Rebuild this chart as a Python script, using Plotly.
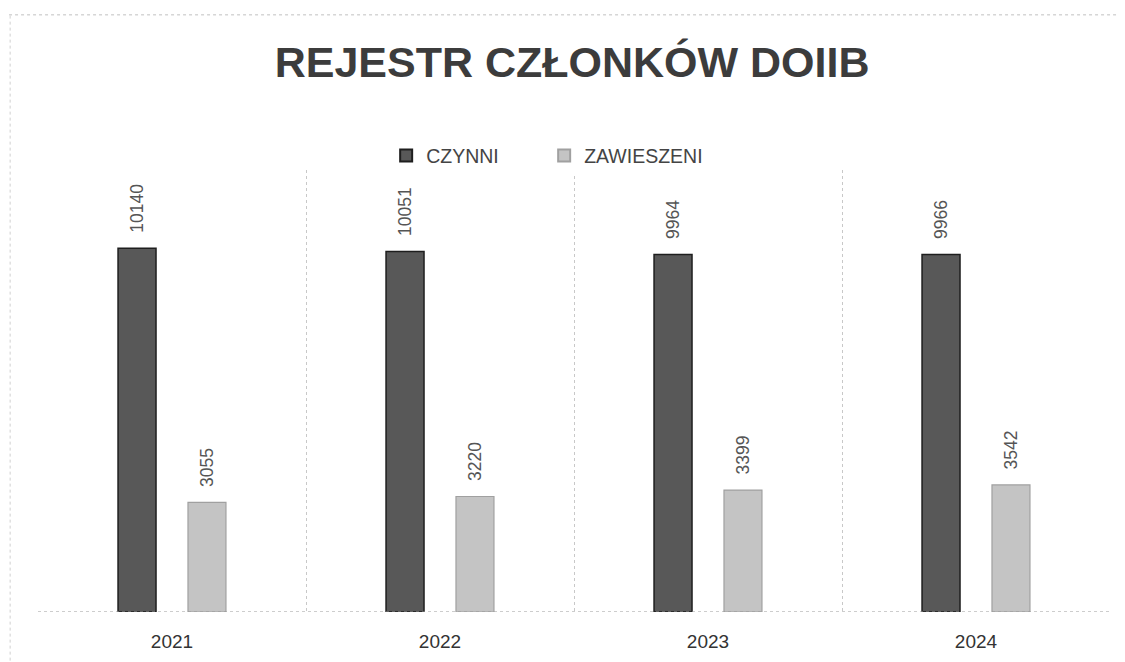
import plotly.graph_objects as go

years = ["2021", "2022", "2023", "2024"]
czynni = [10140, 10051, 9964, 9966]
zawieszeni = [3055, 3220, 3399, 3542]

FONT = "Liberation Sans, Arial, sans-serif"

fig = go.Figure()
fig.add_trace(go.Bar(
    name="CZYNNI", x=years, y=czynni,
    marker=dict(color="#585858", line=dict(color="#1e1e1e", width=1.5)),
))
fig.add_trace(go.Bar(
    name="ZAWIESZENI", x=years, y=zawieszeni,
    marker=dict(color="#c4c4c4", line=dict(color="#a0a0a0", width=1.2)),
))

# value labels (category index used as position on the category axis)
annotations = []
for series, shift in ((czynni, -35), (zawieszeni, 35)):
    for i, v in enumerate(series):
        annotations.append(dict(
            x=i, y=v, xref="x", yref="y", text=str(v), showarrow=False,
            textangle=-90, xshift=shift, yshift=13, yanchor="bottom", xanchor="center",
            font=dict(family=FONT, size=17.5, color="#555555"),
        ))

fig.update_layout(
    width=1117, height=654,
    margin=dict(l=30, r=15, t=162, b=50, autoexpand=False),
    paper_bgcolor="white", plot_bgcolor="white",
    barmode="group", bargap=0.478, bargroupgap=0.457,
    title=dict(text="<b>REJESTR CZŁONKÓW DOIIB</b>", x=0.505, xanchor="center",
               xref="container", yref="container",
               y=0.9174, yanchor="middle",
               font=dict(family=FONT, size=43, color="#3c3c3c")),
    legend=dict(orientation="h", x=0.480, xanchor="center", xref="container",
                yref="container", y=0.774, yanchor="middle",
                font=dict(family=FONT, size=19.5, color="#444444"),
                entrywidth=113, entrywidthmode="pixels",
                itemsizing="constant", traceorder="normal"),
    showlegend=True,
    annotations=annotations,
    xaxis=dict(type="category", categoryorder="array", categoryarray=years,
               range=[-0.5, len(years) - 0.5], autorange=False,
               tickson="boundaries", showgrid=True, gridcolor="#c8c8c8",
               griddash="dot", gridwidth=1, ticks="", showline=False,
               automargin=False,
               tickfont=dict(family=FONT, size=19, color="#333333"),
               ticklabelstandoff=16),
    yaxis=dict(range=[0, 12320], visible=False, showgrid=False, zeroline=False,
               automargin=False),
    shapes=[
        dict(type="line", xref="paper", yref="y", x0=0.0, x1=1.0, y0=0, y1=0,
             line=dict(color="#9a9a9a", width=1, dash="dot")),
        dict(type="line", xref="paper", yref="paper", x0=-0.027, x1=1.014, y0=1.351, y1=1.351,
             line=dict(color="#c0c0c0", width=1, dash="dot")),
        dict(type="line", xref="paper", yref="paper", x0=-0.026, x1=-0.026, y0=-0.11, y1=1.351,
             line=dict(color="#d0d0d0", width=1, dash="dot")),
    ],
)

fig.write_html("out.html")
